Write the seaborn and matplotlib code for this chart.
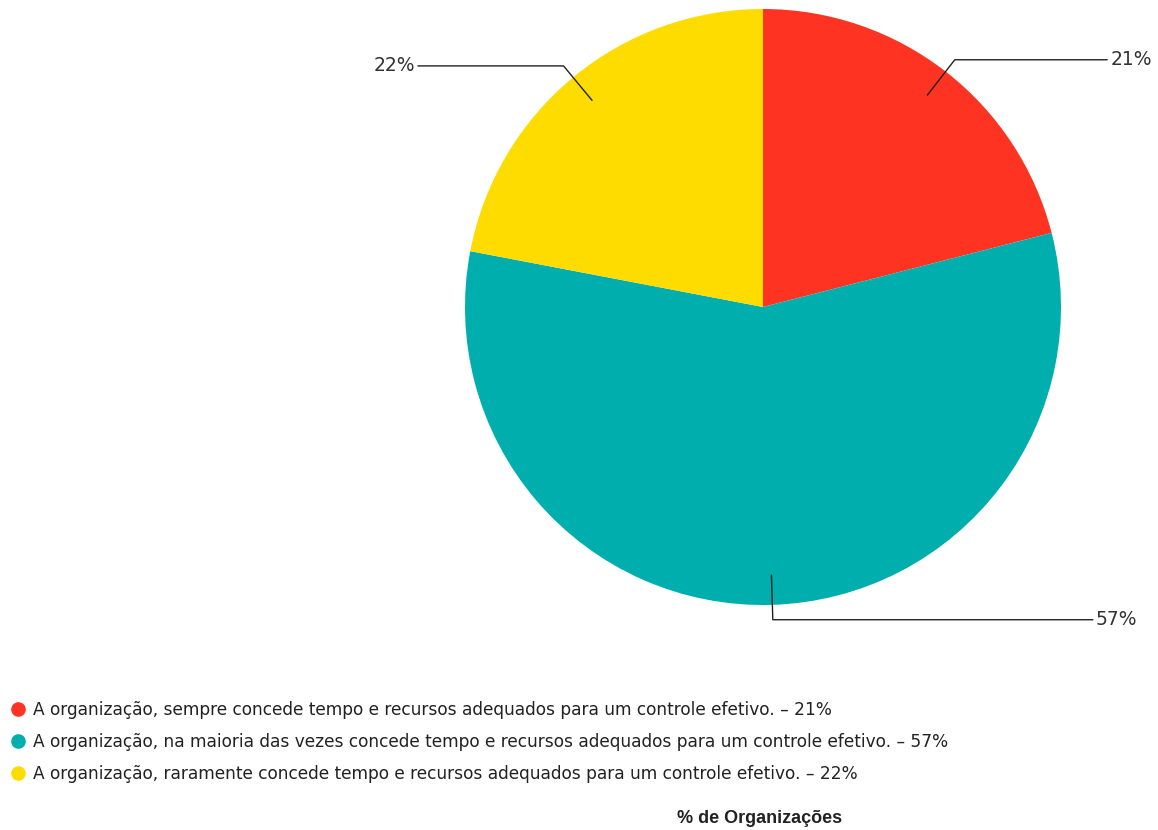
import numpy as np
import matplotlib
matplotlib.use("Agg")
import matplotlib.pyplot as plt
from matplotlib.lines import Line2D
import seaborn as sns

# Survey answers and shares of organisations
categories = [
    "A organização, sempre concede tempo e recursos adequados para um controle efetivo.",
    "A organização, na maioria das vezes concede tempo e recursos adequados para um controle efetivo.",
    "A organização, raramente concede tempo e recursos adequados para um controle efetivo.",
]
shares = [21, 57, 22]
slice_colors = ["#FF3322", "#00AEAE", "#FFDC00"]
chart_title = "% de Organizações"

sns.set_theme(style="white")
plt.rcParams["font.family"] = ["DejaVu Sans"]

W, H = 1158, 830
fig = plt.figure(figsize=(W / 100, H / 100), dpi=100)
fig.patch.set_facecolor("white")

# pie axes: centre and radius in pixels
cx, cy, R = 763, 307, 298
ax = fig.add_axes([(cx - R) / W, (H - cy - R) / H, 2 * R / W, 2 * R / H])
wedges, _ = ax.pie(shares, colors=slice_colors, startangle=90, counterclock=False,
                   radius=1.0, wedgeprops=dict(linewidth=0))
ax.set_xlim(-1, 1)
ax.set_ylim(-1, 1)
ax.set_aspect("equal")
ax.axis("off")

# leader lines with percentage labels
label_x = [1.155, 1.107, -1.158]
for w, val, lx in zip(wedges, shares, label_x):
    mid = np.deg2rad((w.theta1 + w.theta2) / 2)
    sx, sy = 0.9 * np.cos(mid), 0.9 * np.sin(mid)
    ex, ey = 1.05 * np.cos(mid), 1.05 * np.sin(mid)
    ax.plot([sx, ex, lx], [sy, ey, ey], color="#222222", lw=1.0, clip_on=False)
    ha = "left" if lx > 0 else "right"
    off = 0.01 if lx > 0 else -0.01
    ax.text(lx + off, ey, f"{val}%", ha=ha, va="center", fontsize=13.5,
            color="#333333", clip_on=False)

# legend below the pie
handles = [Line2D([0], [0], marker="o", linestyle="none", markersize=9.5,
                  markerfacecolor=c, markeredgecolor=c) for c in slice_colors]
labels = [f"{c} – {v}%" for c, v in zip(categories, shares)]
fig.legend(handles, labels, loc="upper left", bbox_to_anchor=(8 / W, 1 - 696 / H),
           frameon=False, fontsize=12.25, handlelength=0.6, handletextpad=0.55,
           labelspacing=0.82, borderpad=0.3, borderaxespad=0.0,
           labelcolor="#222222")

fig.text(760 / W, 1 - 818 / H, chart_title, ha="center", va="center",
         fontsize=13, fontweight="bold", family=["Liberation Sans", "DejaVu Sans"],
         color="#222222")

fig.savefig("out.png", dpi=100, facecolor="white")
